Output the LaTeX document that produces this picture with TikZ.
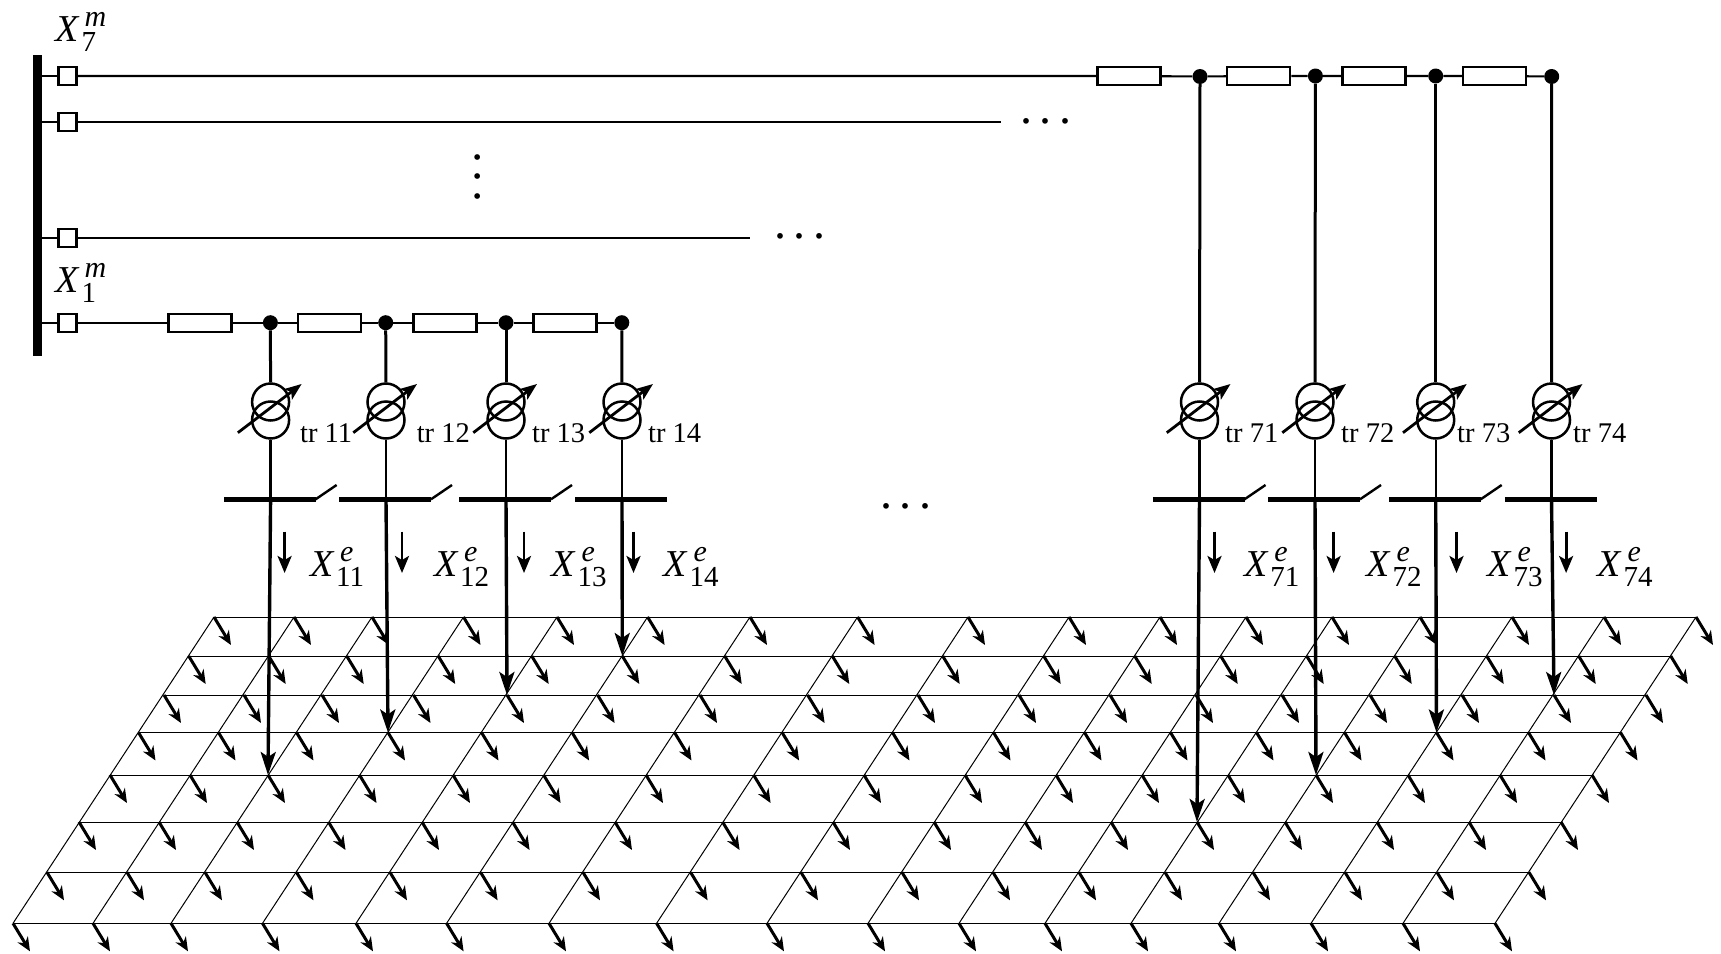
\documentclass[tikz,border=0pt]{standalone}
\usepackage{fontspec}
\setmainfont{Liberation Serif}
\usetikzlibrary{arrows.meta,calc}
\newcommand{\bigX}[3]{{\fontsize{38}{38}\selectfont\itshape X}\kern-23.2pt\rlap{\kern#3pt\raisebox{15.5pt}{\fontsize{30}{30}\selectfont\itshape #1}}\rlap{\kern26pt\raisebox{-9.5pt}{\fontsize{29}{29}\selectfont #2}}}
\newcommand{\threedots}{\fontsize{48}{48}\selectfont .\kern8pt.\kern8pt.}
\tikzset{
  wire/.style={line width=2.1pt},
  gridline/.style={line width=1pt},
  gridarrow/.style={line width=3pt,-{Stealth[length=14pt,width=12pt,inset=4.5pt]}},
  feedarrow/.style={line width=3.4pt,-{Stealth[length=23pt,width=15pt,inset=5pt]}},
  flowarrow/.style={line width=2.8pt,-{Stealth[length=17pt,width=14pt,inset=4pt]}},
  tap/.style={line width=3pt},
  breaker/.style={draw,line width=2.3pt,fill=white,minimum width=18pt,minimum height=18pt,inner sep=0pt},
  resistor/.style={draw,line width=2.3pt,fill=white,minimum width=63pt,minimum height=18pt,inner sep=0pt},
  junction/.style={circle,fill=black,minimum size=15pt,inner sep=0pt},
  winding/.style={circle,draw,line width=2.5pt,minimum size=37pt,inner sep=0pt},
  trlabel/.style={anchor=base west,inner sep=0pt,font=\fontsize{28.5}{28.5}\selectfont},
  xlabel/.style={anchor=base west,inner sep=0pt},
  dotsnode/.style={inner sep=0pt}
}
\begin{document}
\begin{tikzpicture}[x=1pt,y=-1pt]
\useasboundingbox (0,0) rectangle (1721,953);
% grid coordinates
\foreach \r/\ox/\yy in {1/201/617,2/175.7/656,3/151/695,4/125.5/732.5,5/97/775,6/66/822,7/34/872.3,8/0/923.3}{
  \foreach \c/\bx in {0/13,1/93,2/171,3/262.5,4/356,5/446.6,6/549,7/656.6,8/767,9/868,10/959,11/1045,12/1131,13/1219,14/1311,15/1403,16/1495}{
    \coordinate (g-\r-\c) at ({\bx+\ox},\yy);
    \coordinate (h-\r-\c) at ({\bx+\ox+17},{\yy+28});
  }
  \draw[gridline] (g-\r-0) -- (g-\r-16);
}
\foreach \c in {0,...,16}{
  \draw[gridline] (g-1-\c) -- (g-8-\c);
}
\foreach \r in {1,...,8}{
  \foreach \c in {0,...,16}{
    \draw[gridarrow] (g-\r-\c) -- (h-\r-\c);
  }
}
% main bus
\coordinate (bust) at (37.5,55);
\coordinate (busb) at (37.5,356);
\draw[line width=8.4pt] (bust) -- (busb);
% breakers and outgoing lines
\foreach \n/\yy in {a/76,b/121.7,c/238,d/322.7}{
  \coordinate (bus\n) at (37.5,\yy);
  \node[breaker] (brk\n) at (67.5,\yy) {};
  \draw[wire] (bus\n) -- (brk\n);
}
\coordinate (endb) at (1001,121.7);
\coordinate (endc) at (750,238);
\draw[wire] (brkb) -- (endb);
\draw[wire] (brkc) -- (endc);
% resistors and junctions
\foreach \id/\x in {d1/200,d2/329.5,d3/445,d4/565}{ \node[resistor] (res\id) at (\x,322.7) {}; }
\foreach \id/\x in {a1/1129,a2/1258.7,a3/1374,a4/1494.4}{ \node[resistor] (res\id) at (\x,76) {}; }
\foreach \id/\x/\yy in {11/270.4/322.7,12/385.7/322.7,13/506/322.7,14/621.8/322.7,71/1200/76.5,72/1315.4/76,73/1435.7/76,74/1551.7/76.5}{
  \node[junction] (j\id) at (\x,\yy) {};
}
\draw[wire] (brkd) -- (resd1) (resd1) -- (j11) (j11) -- (resd2) (resd2) -- (j12) (j12) -- (resd3) (resd3) -- (j13) (j13) -- (resd4) (resd4) -- (j14);
\draw[wire] (brka) -- (resa1) (resa1) -- (j71) (j71) -- (resa2) (resa2) -- (j72) (j72) -- (resa3) (resa3) -- (j73) (j73) -- (resa4) (resa4) -- (j74);
% transformer branches
\foreach \id/\x/\r/\c/\off/\lx/\trx/\sw in {
  11/270.6/5/2/14/309.5/300/1,
  12/386/4/3/16/433.5/416.6/1,
  13/506/3/4/18/551/532/1,
  14/622/2/5/11.5/663/648/0,
  71/1199.5/6/12/15/1243.6/1225/1,
  72/1315/5/13/18.6/1366/1341/1,
  73/1435.7/4/14/20.8/1487/1457/1,
  74/1551.5/3/15/14.6/1597/1573/0}{
  \node[winding] (ta\id) at (\x,402) {};
  \node[winding] (tb\id) at (\x,420) {};
  \draw[tap] (j\id) -- (ta\id);
  \coordinate (bar\id) at (\x,499.3);
  \coordinate (barl\id) at ({\x-46.6},499.3);
  \coordinate (barr\id) at ({\x+45},499.3);
  \coordinate (sw\id) at ({\x+66},485);
  \draw[line width=2.4pt] (tb\id) -- (bar\id);
  \draw[line width=5.6pt] (barl\id) -- (barr\id);
  \ifnum\sw=1 \draw[line width=2.4pt] (barr\id) -- (sw\id); \fi
  \draw[feedarrow] (bar\id) -- (g-\r-\c);
  \coordinate (tapa\id) at ({\x-32.7},432.7);
  \coordinate (tapb\id) at ({\x+31},384);
  \draw[line width=2.8pt,-{Stealth[length=17pt,width=13pt,inset=4pt]}] (tapa\id) -- (tapb\id);
  \node[trlabel] (tr\id) at (\trx,442.7) {tr \id};
  \coordinate (fa\id) at ({\x+\off},531.7);
  \coordinate (fb\id) at ({\x+\off},573);
  \draw[flowarrow] (fa\id) -- (fb\id);
  \node[xlabel] (xe\id) at (\lx,576.7) {\bigX{e}{\id}{30}};
}
% labels of the feeders
\node[xlabel] (xm7) at (55,41.7) {\bigX{m}{7}{29}};
\node[xlabel] (xm1) at (55,292.7) {\bigX{m}{1}{29}};
% dots
\node[dotsnode] (dots1) at (1046,121) {\threedots};
\node[dotsnode] (dots2) at (800,236) {\threedots};
\node[dotsnode] (dots3) at (906,506) {\threedots};
\node[dotsnode,rotate=-90] (dots4) at (477.5,177) {\threedots};
\end{tikzpicture}
\end{document}
